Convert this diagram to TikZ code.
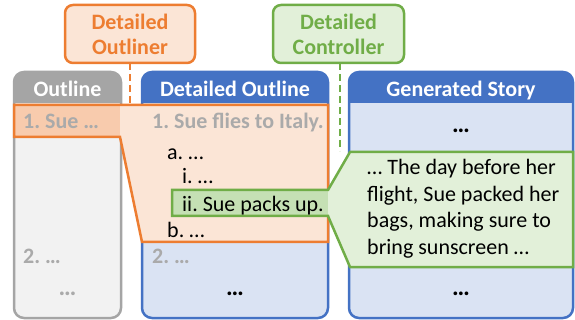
\documentclass[tikz,border=0pt]{standalone}
\usepackage{fontspec}
\setmainfont{Carlito}
\usetikzlibrary{positioning}
\definecolor{orline}{HTML}{ED7D31}
\definecolor{orfill}{HTML}{FBE5D6}
\definecolor{ordark}{HTML}{F8CBAD}
\definecolor{grline}{HTML}{70AD47}
\definecolor{grfill}{HTML}{E2F0D9}
\definecolor{grdark}{HTML}{C5E0B4}
\definecolor{blline}{HTML}{4472C4}
\definecolor{blfill}{HTML}{DAE3F3}
\definecolor{gyline}{HTML}{A5A5A5}
\definecolor{gyfill}{HTML}{F2F2F2}
\definecolor{gytext}{HTML}{AAAAAA}
\frenchspacing
\tikzset{
    column/.style = {rectangle, rounded corners=10pt, outer sep=0pt, inner sep=0pt, minimum height=246pt},
    colframe/.style = {rounded corners=10pt, line width=2.5pt},
    hdrtext/.style = {anchor=base, text=white, font=\bfseries},
    callout/.style = {rectangle, rounded corners=8pt, line width=2.5pt, outer sep=0pt, minimum height=58pt, align=center, font=\bfseries},
    itemtxt/.style = {anchor=base west, inner sep=0pt},
    olditem/.style = {itemtxt, text=gytext, font=\bfseries},
    dotstxt/.style = {anchor=base, inner sep=0pt, font=\fontsize{25}{25}\selectfont\bfseries},
    ordash/.style = {orline, line width=2.8pt, dash pattern=on 7pt off 4pt},
    grdash/.style = {grline, line width=2.8pt, dash pattern=on 7pt off 4pt},
    every picture/.style={font issue=\fontsize{22}{25}},
    font issue/.style={execute at begin picture={#1\selectfont\frenchspacing}}
}
\begin{document}
\begin{tikzpicture}[x=1pt, y=-1pt]
\useasboundingbox (0,0) rectangle (575,320);

% columns
\node[column, fill=gyfill, minimum width=107pt] (outl) at (67.5,195) {};
\node[column, fill=blfill, minimum width=186pt] (detl) at (235,195) {};
\node[column, fill=blfill, minimum width=224pt] (story) at (461,195) {};
\begin{scope}
  \clip (outl.north west) rectangle ([yshift=-31pt]outl.north east);
  \fill[gyline, rounded corners=10pt] (outl.north west) rectangle (outl.south east);
\end{scope}
\begin{scope}
  \clip (detl.north west) rectangle ([yshift=-31pt]detl.north east);
  \fill[blline, rounded corners=10pt] (detl.north west) rectangle (detl.south east);
\end{scope}
\begin{scope}
  \clip (story.north west) rectangle ([yshift=-31pt]story.north east);
  \fill[blline, rounded corners=10pt] (story.north west) rectangle (story.south east);
\end{scope}
\draw[colframe, gyline] (outl.north west) rectangle (outl.south east);
\draw[colframe, blline] (detl.north west) rectangle (detl.south east);
\draw[colframe, blline] (story.north west) rectangle (story.south east);
\node[hdrtext] at ([yshift=-25pt]outl.north) {Outline};
\node[hdrtext] at ([yshift=-25pt]detl.north) {Detailed Outline};
\node[hdrtext] at ([yshift=-25pt]story.north) {Generated Story};

% callouts
\node[callout, draw=orline, fill=orfill, text=orline, minimum width=130pt] (outliner) at (130,34) {Detailed\\Outliner};
\node[callout, draw=grline, fill=grfill, text=grline, minimum width=131pt] (controller) at (338.5,34) {Detailed\\Controller};

% detailed outliner region
\fill[orfill] (14,105) -- (328,105) -- (328,242) -- (142,242) -- (120,137) -- (14,137) -- cycle;
\fill[ordark] (14,105) rectangle (120,137);
\draw[orline, line width=2.5pt] (14,105) -- (328,105) -- (328,242) -- (142,242) -- (120,137) -- (14,137) -- cycle;
\coordinate (ortop) at (130,104);
\draw[ordash] (outliner.south) -- (ortop);

% detailed controller region
\fill[grfill] (172,190) -- (328,190) -- (350,152) -- (573,152) -- (573,267) -- (350,267) -- (328,216) -- (172,216) -- cycle;
\fill[grdark] (172,190) rectangle (328,216);
\draw[grline, line width=2.5pt] (172,190) -- (328,190) -- (350,152) -- (573,152) -- (573,267) -- (350,267) -- (328,216) -- (172,216) -- cycle;
\coordinate (grtop) at (340,151);
\draw[grdash] (controller.south -| grtop) -- (grtop);

% outline texts
\node[olditem] (o1) at (23,129) {1. Sue …};
\node[olditem] (o2) at (23,263) {2. …};
\node[dotstxt, text=gytext] (o3) at (67.5,295) {…};

\node[olditem] (d1) at (152,129) {1. Sue flies to Italy.};
\node[itemtxt] (da) at (167,160) {a. …};
\node[itemtxt] (di) at (182,184) {i. …};
\node[itemtxt] (dii) at (182,212) {ii. Sue packs up.};
\node[itemtxt] (db) at (167,237) {b. …};
\node[olditem] (d2) at (152,263) {2. …};
\node[dotstxt] (d3) at (235,295) {…};

\node[dotstxt] (s0) at (461,133) {…};
\node[itemtxt] (s1) at (367,175) {… The day before her};
\node[itemtxt] (s2) at (367,201.5) {flight, Sue packed her};
\node[itemtxt] (s3) at (367,228) {bags, making sure to};
\node[itemtxt] (s4) at (367,254.5) {bring sunscreen …};
\node[dotstxt] (s5) at (461,295) {…};
\end{tikzpicture}
\end{document}
